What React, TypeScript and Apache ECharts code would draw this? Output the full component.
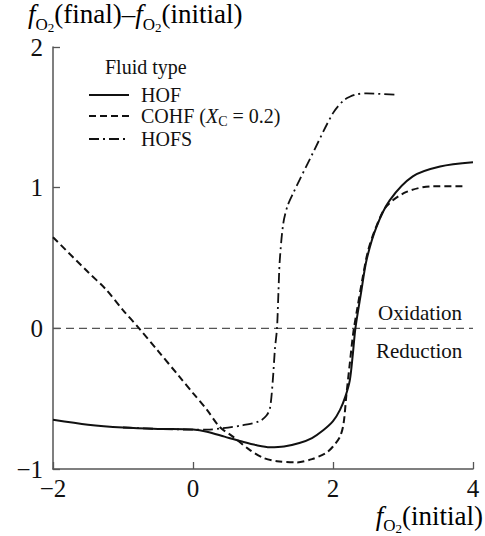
import React, { useEffect, useRef } from "react";
import * as echarts from "echarts";

const seriesNames = ["HOF", "COHF", "HOFS"];
const legendLabels = ["{g|}HOF", "{g|}COHF ({xi|X}{xs|C} = 0.2)", "{g|}HOFS"];

const hofData: number[][] = [
  [-2, -0.65], [-1.5, -0.685], [-1, -0.705], [-0.5, -0.715], [0, -0.72], [0.2, -0.735],
  [0.45, -0.77], [0.7, -0.805], [0.9, -0.83], [1.1, -0.845], [1.3, -0.84], [1.52, -0.815],
  [1.7, -0.78], [1.86, -0.725], [2.0, -0.66], [2.1, -0.58], [2.18, -0.48], [2.24, -0.37],
  [2.28, -0.2], [2.32, 0.0], [2.4, 0.25], [2.48, 0.487], [2.62, 0.72], [2.81, 0.91],
  [3.14, 1.08], [3.53, 1.15], [4.0, 1.18],
];

const cohfData: number[][] = [
  [-2, 0.648], [-1.5, 0.4], [-1.25, 0.28], [-1, 0.13], [-0.77, 0], [-0.5, -0.16],
  [-0.2, -0.34], [0, -0.46], [0.2, -0.58], [0.38, -0.7], [0.57, -0.77], [0.8, -0.86],
  [1.0, -0.92], [1.2, -0.945], [1.48, -0.953], [1.7, -0.93], [1.9, -0.886], [2.0, -0.84],
  [2.1, -0.77], [2.15, -0.68], [2.19, -0.48], [2.24, -0.25], [2.29, -0.03], [2.35, 0.15],
  [2.42, 0.35], [2.5, 0.55], [2.6, 0.7], [2.76, 0.865], [3.05, 0.97], [3.43, 1.01], [3.9, 1.01],
];

const hofsData: number[][] = [
  [-1.0, -0.705], [-0.5, -0.715], [0, -0.72], [0.2, -0.72], [0.43, -0.71], [0.7, -0.69],
  [0.95, -0.66], [1.05, -0.62], [1.1, -0.567], [1.14, -0.37], [1.17, -0.15], [1.2, 0.0],
  [1.22, 0.25], [1.24, 0.486], [1.29, 0.747], [1.35, 0.87], [1.43, 0.96], [1.71, 1.244],
  [2.0, 1.53], [2.15, 1.62], [2.24, 1.646], [2.35, 1.665], [2.48, 1.67], [2.9, 1.66],
];

const zeroLine: number[][] = [[-2, 0], [4, 0]];

const xTicks = [-2, 0, 2, 4];
const yTicks = [-1, 0, 1, 2];

const FONT = "Liberation Serif";
const INK = "#111";
const AXIS = "#555";

const makeRich = (sPad: number, ssPad: number) => ({
  n: { fontFamily: FONT, fontSize: 27, color: INK, lineHeight: 27, verticalAlign: "top" as const },
  i: { fontFamily: FONT, fontSize: 27, fontStyle: "italic" as const, color: INK, lineHeight: 27, verticalAlign: "top" as const },
  s: { fontFamily: FONT, fontSize: 17, color: INK, lineHeight: 17, verticalAlign: "top" as const, padding: [sPad, 0, 0, 0] },
  ss: { fontFamily: FONT, fontSize: 13, color: INK, lineHeight: 12, verticalAlign: "top" as const, padding: [ssPad, 0, 0, 0] },
});

export default function App() {
  const ref = useRef<HTMLDivElement>(null);
  useEffect(() => {
    document.body.style.margin = "0";
    if (!ref.current) return;
    const chart = echarts.init(ref.current, undefined, { renderer: "svg" });
    const lineBase = { type: "line", showSymbol: false, symbol: "none", smooth: 0.3 };
    chart.setOption({
      animation: false,
      backgroundColor: "#fff",
      textStyle: { fontFamily: FONT },
      grid: { left: 53, right: 12, top: 47, bottom: 67 },
      xAxis: {
        type: "value", min: -2, max: 4, interval: 2,
        axisLine: { show: true, onZero: false, lineStyle: { color: AXIS, width: 1.5 } },
        axisTick: { show: true, inside: true, length: 7, lineStyle: { color: AXIS, width: 1.3 }, customValues: xTicks },
        axisLabel: {
          fontFamily: FONT, fontSize: 25, lineHeight: 18, color: INK, margin: 10, customValues: xTicks,
          formatter: (v: number) => String(v).replace("-", "\u2212"),
        },
        splitLine: { show: false },
      },
      yAxis: {
        type: "value", min: -1, max: 2, interval: 1,
        axisLine: { show: true, onZero: false, lineStyle: { color: AXIS, width: 1.5 } },
        axisTick: { show: true, inside: true, length: 7, lineStyle: { color: AXIS, width: 1.3 }, customValues: yTicks },
        axisLabel: {
          fontFamily: FONT, fontSize: 25, color: INK, margin: 10, customValues: yTicks,
          formatter: (v: number) => String(v).replace("-", "\u2212"),
        },
        splitLine: { show: false },
      },
      legend: {
        show: true,
        orient: "vertical",
        left: 88,
        top: 85,
        padding: 0,
        itemWidth: 40,
        itemHeight: 14,
        itemGap: 1,
        data: seriesNames,
        itemStyle: { opacity: 0 },
        formatter: (name: string) => legendLabels[seriesNames.indexOf(name)],
        textStyle: {
          fontFamily: FONT, fontSize: 20, color: INK, lineHeight: 20,
          rich: {
            g: { width: 7, lineHeight: 20 },
            xi: { fontFamily: FONT, fontSize: 20, fontStyle: "italic", color: INK, lineHeight: 20, verticalAlign: "top" },
            xs: { fontFamily: FONT, fontSize: 14, color: INK, lineHeight: 12, verticalAlign: "top", padding: [8, 0, 0, 0] },
          },
        },
      },
      series: [
        { ...lineBase, name: "HOF", data: hofData, lineStyle: { color: INK, width: 2, type: "solid" }, itemStyle: { color: INK }, z: 3 },
        { ...lineBase, name: "COHF", data: cohfData, lineStyle: { color: INK, width: 2, type: [7, 4] }, itemStyle: { color: INK }, z: 2 },
        { ...lineBase, name: "HOFS", data: hofsData, lineStyle: { color: INK, width: 1.8, type: [10, 4, 2, 4] }, itemStyle: { color: INK }, z: 2 },
        { type: "line", name: "boundary", data: zeroLine, showSymbol: false, symbol: "none", silent: true,
          lineStyle: { color: AXIS, width: 1.3, type: [8, 5] }, z: 1 },
      ],
      graphic: [
        {
          type: "text", left: 28, top: 0,
          style: {
            text: "{i|f}{s|O}{ss|2}{n|(final)\u2013}{i|f}{s|O}{ss|2}{n|(initial)}",
            rich: makeRich(16, 21),
          },
        },
        {
          type: "text", right: 2, top: 502,
          style: { text: "{i|f}{s|O}{ss|2}{n|(initial)}", rich: makeRich(15, 20) },
        },
        {
          type: "text", left: 105, top: 57,
          style: { text: "Fluid type", fontFamily: FONT, fontSize: 20, fill: INK },
        },
        {
          type: "text", left: 378, top: 302,
          style: { text: "Oxidation", fontFamily: FONT, fontSize: 21, fill: INK },
        },
        {
          type: "text", left: 376, top: 340,
          style: { text: "Reduction", fontFamily: FONT, fontSize: 21, fill: INK },
        },
      ],
    });
    return () => chart.dispose();
  }, []);
  return <div ref={ref} style={{ width: 485, height: 536 }} />;
}
